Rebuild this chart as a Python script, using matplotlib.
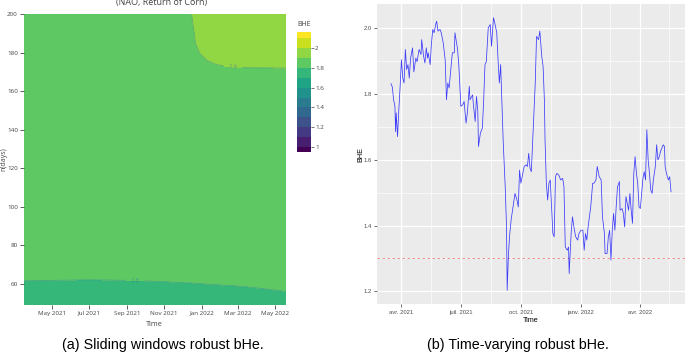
import numpy as np
import pandas as pd
import matplotlib
matplotlib.use('Agg')
import matplotlib.pyplot as plt
import matplotlib.dates as mdates

# ---- (a) sliding windows robust BHE surface ----
grid_dates = ['2021-03-16', '2021-07-01', '2021-09-01', '2021-11-01', '2021-12-10', '2021-12-16',
              '2021-12-22', '2021-12-29', '2022-01-10', '2022-01-25', '2022-02-21', '2022-03-20',
              '2022-05-19']
grid_n = [49, 65, 150, 170, 175, 180, 190, 200]
bhe_grid = [
    [1.76, 1.76, 1.76, 1.76, 1.76, 1.76, 1.76, 1.76, 1.76, 1.76, 1.76, 1.76, 1.76],
    [1.811, 1.809, 1.810, 1.813, 1.816, 1.816, 1.817, 1.818, 1.819, 1.821, 1.824, 1.829, 1.851],
    [1.84, 1.84, 1.84, 1.845, 1.85, 1.82, 1.84, 1.85, 1.855, 1.86, 1.86, 1.86, 1.86],
    [1.85, 1.85, 1.855, 1.86, 1.86, 1.825, 1.863, 1.876, 1.885, 1.891, 1.894, 1.895, 1.895],
    [1.85, 1.855, 1.86, 1.865, 1.865, 1.838, 1.875, 1.889, 1.898, 1.903, 1.907, 1.907, 1.908],
    [1.85, 1.86, 1.865, 1.87, 1.87, 1.85, 1.888, 1.901, 1.910, 1.916, 1.919, 1.920, 1.920],
    [1.85, 1.86, 1.87, 1.875, 1.875, 1.875, 1.913, 1.926, 1.935, 1.941, 1.944, 1.945, 1.945],
    [1.85, 1.86, 1.87, 1.88, 1.88, 1.902, 1.938, 1.951, 1.960, 1.966, 1.969, 1.970, 1.970],
]
levels = [0.95, 1.0, 1.1, 1.2, 1.3, 1.4, 1.5, 1.6, 1.7, 1.8, 1.9, 2.0, 2.1, 2.16]
band_colors = ['#440154', '#481f70', '#443983', '#3b528b', '#31688e', '#287c8e',
               '#21918c', '#20a486', '#35b779', '#5ec962', '#90d743', '#c8e020', '#fde725']
cbar_ticks = [1.0, 1.2, 1.4, 1.6, 1.8, 2.0]

# ---- (b) time-varying robust BHE (days after 2021-04-01, value) ----
day = [-16, -14, -12, -10, -9, -8, -6, -4, -2, 0, 2, 4, 6, 8, 10, 12, 14, 17, 19, 22,
       24, 27, 30, 31, 34, 36, 38, 40, 41, 44, 46, 48, 50, 53, 54, 56, 59, 61, 64, 67,
       69, 71, 73, 76, 78, 81, 82, 86, 88, 91, 94, 96, 99, 101, 104, 105, 109, 110, 113, 115,
       117, 118, 121, 124, 126, 128, 130, 133, 136, 138, 141, 143, 146, 148, 150, 152, 154, 156, 159, 161,
       162, 164, 166, 168, 171, 174, 177, 179, 181, 183, 186, 188, 191, 193, 195, 197, 199, 202, 205, 207,
       210, 212, 215, 217, 219, 220, 222, 224, 226, 228, 230, 232, 234, 236, 238, 241, 244, 247, 249, 251,
       254, 256, 257, 260, 262, 265, 267, 270, 272, 275, 278, 280, 282, 284, 286, 288, 290, 293, 295, 298,
       300, 303, 306, 308, 311, 312, 315, 317, 319, 321, 323, 325, 327, 329, 331, 334, 335, 338, 340, 342,
       344, 346, 348, 350, 352, 354, 356, 358, 360, 362, 364, 366, 368, 370, 372, 374, 376, 378, 380, 382,
       384, 386, 389, 391, 393, 395, 397, 399, 401, 403, 404, 406, 409, 411, 413]
bhe = [1.832, 1.822, 1.783, 1.763, 1.686, 1.743, 1.671, 1.753, 1.824, 1.905, 1.849, 1.834, 1.936, 1.875, 1.890, 1.849, 1.910, 1.941, 1.868, 1.910,
       1.899, 1.936, 1.921, 1.966, 1.915, 1.895, 1.941, 1.910, 1.926, 1.890, 1.956, 1.997, 1.987, 2.017, 2.022, 1.992, 1.997, 1.987, 1.956, 1.905,
       1.783, 1.834, 1.819, 1.885, 1.926, 1.926, 1.987, 1.936, 1.885, 1.763, 1.768, 1.778, 1.712, 1.743, 1.824, 1.783, 1.798, 1.773, 1.717, 1.793,
       1.748, 1.641, 1.682, 1.697, 1.783, 1.890, 1.899, 2.002, 2.012, 1.946, 2.033, 2.017, 1.987, 1.905, 1.834, 1.890, 1.773, 1.651, 1.518, 1.396,
       1.203, 1.315, 1.376, 1.417, 1.457, 1.498, 1.478, 1.457, 1.569, 1.529, 1.559, 1.580, 1.585, 1.580, 1.620, 1.575, 1.564, 1.702, 1.834, 1.976,
       1.966, 1.992, 1.915, 1.885, 1.783, 1.661, 1.529, 1.478, 1.529, 1.539, 1.457, 1.376, 1.366, 1.549, 1.559, 1.554, 1.539, 1.544, 1.518, 1.335,
       1.325, 1.335, 1.254, 1.376, 1.427, 1.386, 1.366, 1.356, 1.376, 1.386, 1.386, 1.325, 1.376, 1.356, 1.396, 1.427, 1.457, 1.529, 1.529, 1.539,
       1.580, 1.549, 1.539, 1.427, 1.376, 1.315, 1.315, 1.366, 1.386, 1.295, 1.386, 1.437, 1.386, 1.457, 1.518, 1.534, 1.447, 1.452, 1.437, 1.396,
       1.488, 1.468, 1.447, 1.498, 1.447, 1.407, 1.559, 1.610, 1.559, 1.529, 1.457, 1.452, 1.498, 1.544, 1.564, 1.539, 1.692, 1.600, 1.559, 1.508,
       1.498, 1.539, 1.580, 1.646, 1.600, 1.610, 1.626, 1.636, 1.646, 1.641, 1.580, 1.559, 1.539, 1.549, 1.503]
threshold = 1.3
major_dates = ['2021-04-01', '2021-07-01', '2021-10-01', '2022-01-01', '2022-04-01']
major_labels = ['avr. 2021', 'juil. 2021', 'oct. 2021', 'janv. 2022', 'avr. 2022']
minor_dates = ['2021-05-16', '2021-08-16', '2021-11-16', '2022-02-15', '2022-05-16']

W, H = 685, 353
fig = plt.figure(figsize=(W / 100, H / 100), dpi=100)


def box(x0, y0, x1, y1):
    """pixel box (top-left origin) -> figure fraction rect"""
    return [x0 / W, 1 - y1 / H, (x1 - x0) / W, (y1 - y0) / H]


PLOTLY = 'Open Sans'
GREY = '#444444'

# ---------------- left: contour ----------------
ax1 = fig.add_axes(box(23.5, 14, 286, 305))
xg = mdates.date2num(pd.to_datetime(grid_dates))
X, Y = np.meshgrid(xg, grid_n)
Z = np.array(bhe_grid)
cf = ax1.contourf(X, Y, Z, levels=levels, colors=band_colors)
cs = ax1.contour(X, Y, Z, levels=[1.8, 1.9], colors='#3d8fa0', linewidths=0.6, alpha=0.6)
ax1.clabel(cs, fmt='%.1f', fontsize=4, colors='#3f78a8', inline=True,
           manual=[(mdates.date2num(pd.Timestamp('2022-02-21')), 172),
                   (mdates.date2num(pd.Timestamp('2021-09-14')), 61.5)])
ax1.set_xlim(xg[0], xg[-1])
ax1.set_ylim(49, 200)
for s in ax1.spines.values():
    s.set_visible(False)
ax1.set_yticks([60, 80, 100, 120, 140, 160, 180, 200])
ax1.xaxis.set_major_locator(mdates.MonthLocator(bymonth=[1, 3, 5, 7, 9, 11]))
ax1.xaxis.set_major_formatter(mdates.DateFormatter('%b %Y'))
ax1.tick_params(length=3, width=0.6, color=GREY, labelcolor=GREY, labelsize=4.5, pad=1)
for lab in ax1.get_xticklabels() + ax1.get_yticklabels():
    lab.set_family(PLOTLY)
ax1.set_xlabel('Time', family=PLOTLY, fontsize=5.2, color=GREY, labelpad=4)
ax1.set_ylabel('n(days)', family=PLOTLY, fontsize=5.0, color=GREY)
ax1.yaxis.set_label_coords(-0.061, 0.5)
fig.text(162 / W, 1 - 3 / H, '(NAO, Return of Corn)', family=PLOTLY, fontsize=6.5,
         color=GREY, ha='center', va='center')

# colorbar
cax = fig.add_axes(box(297, 32.3, 311, 152))
cb = fig.colorbar(cf, cax=cax, spacing='proportional', ticks=cbar_ticks)
cb.outline.set_visible(False)
cb.ax.set_yticklabels(['1', '1.2', '1.4', '1.6', '1.8', '2'])
cb.ax.tick_params(length=2, width=0.5, color=GREY, labelcolor=GREY, labelsize=4.5, pad=1)
for lab in cb.ax.get_yticklabels():
    lab.set_family(PLOTLY)
fig.text(297 / W, 1 - 24 / H, 'BHE', family=PLOTLY, fontsize=5, color=GREY,
         ha='left', va='center')

# ---------------- right: time series ----------------
ax2 = fig.add_axes(box(377, 4, 685, 304))
dates = pd.Timestamp('2021-04-01') + pd.to_timedelta(day, unit='D')
ax2.set_facecolor('#EBEBEB')
ax2.plot(dates, bhe, color='blue', lw=0.55, alpha=0.75, zorder=3)
ax2.axhline(threshold, color='#f08080', lw=0.6, ls=(0, (3, 3)), zorder=2)
ax2.margins(x=0.05, y=0.05)
for s in ax2.spines.values():
    s.set_visible(False)
ax2.set_xticks(pd.to_datetime(major_dates))
ax2.set_xticklabels(major_labels)
ax2.set_xticks(pd.to_datetime(minor_dates), minor=True)
ax2.set_yticks([1.2, 1.4, 1.6, 1.8, 2.0])
ax2.set_yticklabels(['1.2', '1.4', '1.6', '1.8', '2.0'])
ax2.set_yticks([1.3, 1.5, 1.7, 1.9], minor=True)
ax2.grid(which='major', color='white', lw=0.9)
ax2.grid(which='minor', color='white', lw=0.45)
ax2.set_axisbelow(True)
ax2.tick_params(which='major', length=2, width=0.5, color='#333333', labelcolor='#4D4D4D',
                labelsize=4.2, pad=2)
ax2.tick_params(which='minor', length=0)
for lab in ax2.get_xticklabels() + ax2.get_yticklabels():
    lab.set_family('Liberation Sans')
ax2.set_xlabel('Time', family='Liberation Sans', fontsize=5.2, labelpad=2)
ax2.set_ylabel('BHE', family='Liberation Sans', fontsize=5.2)
ax2.yaxis.set_label_coords(-0.042, 0.5)

# captions
fig.text(163 / W, 1 - 345 / H, '(a) Sliding windows robust bHe.', family='Liberation Sans',
         fontsize=10.3, ha='center', va='center')
fig.text(518 / W, 1 - 345 / H, '(b) Time-varying robust bHe.', family='Liberation Sans',
         fontsize=10.3, ha='center', va='center')

fig.savefig('out.png', dpi=100)
